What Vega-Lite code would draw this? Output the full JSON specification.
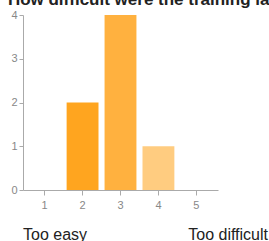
{
  "$schema": "https://vega.github.io/schema/vega-lite/v6.json",
  "padding": {"left": 7, "top": -9, "right": 0, "bottom": 0},
  "background": "white",
  "config": {"view": {"stroke": null}, "font": "Liberation Sans"},
  "title": {"text": "How difficult were the training labs?", "anchor": "start", "frame": "bounds", "fontSize": 17, "fontWeight": "bold", "color": "#222222", "font": "Liberation Sans", "offset": 0, "dx": -3},
  "bounds": "flush",
  "spacing": 45,
  "datasets": {
    "bars": [
      {"rating": "1", "count": 0},
      {"rating": "2", "count": 2},
      {"rating": "3", "count": 4},
      {"rating": "4", "count": 1},
      {"rating": "5", "count": 0}
    ],
    "ends": [
      {"label": "Too easy", "pos": 0},
      {"label": "Too difficult", "pos": 1}
    ]
  },
  "vconcat": [
    {
      "width": 195,
      "height": 175,
      "data": {"name": "bars"},
      "mark": {"type": "bar"},
      "encoding": {
        "x": {"field": "rating", "type": "ordinal", "scale": {"paddingInner": 0.16, "paddingOuter": 0.15},
          "axis": {"title": null, "labelAngle": 0, "labelColor": "#888888", "labelFontSize": 11, "domainColor": "#aaaaaa", "tickColor": "#aaaaaa", "tickSize": 5, "labelPadding": 4}},
        "y": {"field": "count", "type": "quantitative", "scale": {"domain": [0, 4]},
          "axis": {"title": null, "values": [0, 1, 2, 3, 4], "grid": false, "labelColor": "#888888", "labelFontSize": 11, "domain": true, "domainColor": "#aaaaaa", "tickColor": "#aaaaaa", "tickSize": 4, "labelPadding": 2}},
        "color": {"field": "rating", "type": "nominal", "legend": null,
          "scale": {"domain": ["1", "2", "3", "4", "5"], "range": ["#ff9900", "#ffa51f", "#ffb13f", "#ffcc80", "#ffe0b2"]}}
      }
    },
    {
      "width": 245,
      "height": 10,
      "data": {"name": "ends"},
      "layer": [
        {
          "transform": [{"filter": "datum.pos == 0"}],
          "mark": {"type": "text", "align": "left", "baseline": "alphabetic", "fontSize": 16, "color": "#222222"},
          "encoding": {"x": {"field": "pos", "type": "quantitative", "scale": {"domain": [0, 1]}, "axis": null}, "text": {"field": "label"}}
        },
        {
          "transform": [{"filter": "datum.pos == 1"}],
          "mark": {"type": "text", "align": "right", "baseline": "alphabetic", "fontSize": 16, "color": "#222222"},
          "encoding": {"x": {"field": "pos", "type": "quantitative", "scale": {"domain": [0, 1]}, "axis": null}, "text": {"field": "label"}}
        }
      ]
    }
  ]
}
